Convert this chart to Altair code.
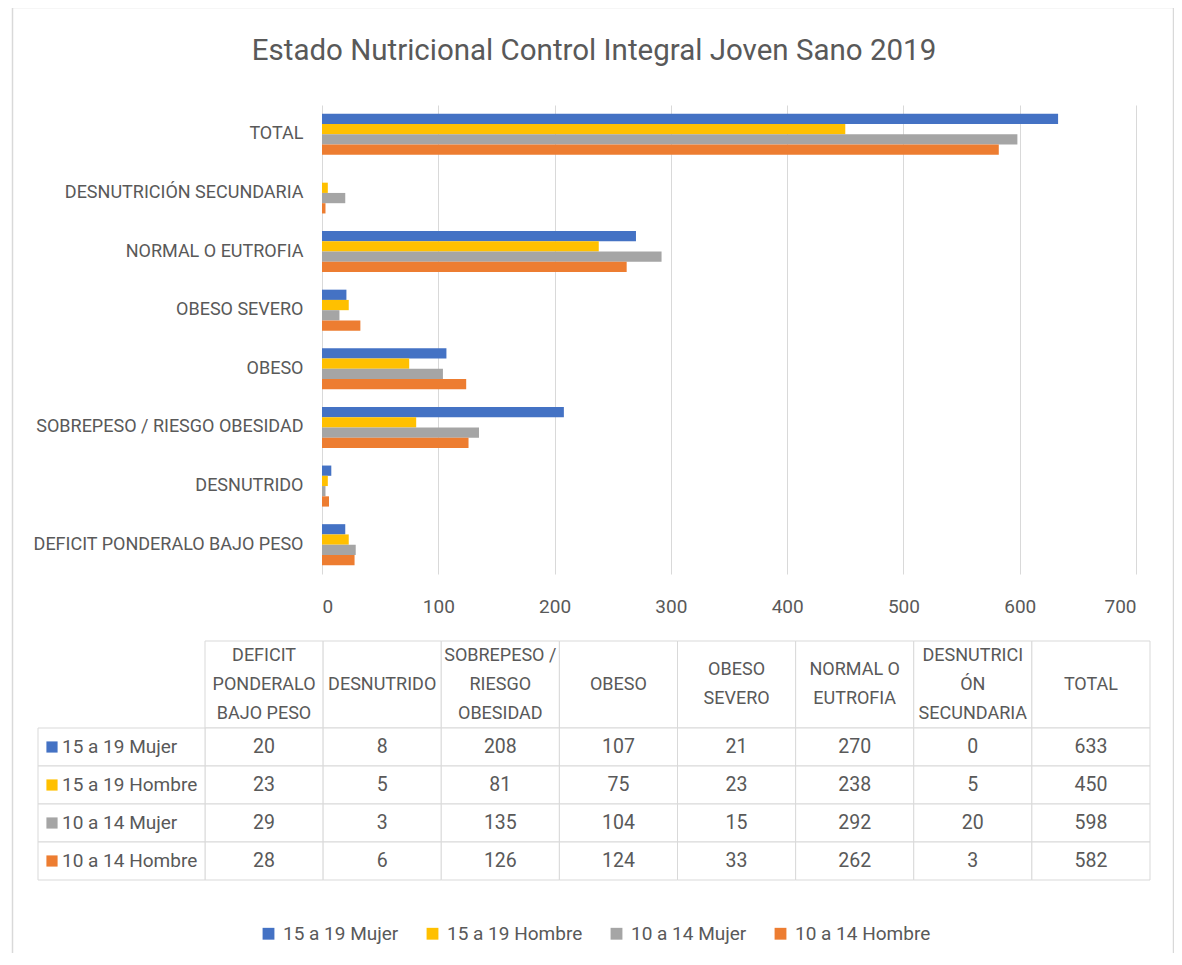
import altair as alt
import pandas as pd

# ---------------- data ----------------
categories = [
    "DEFICIT PONDERALO BAJO PESO",
    "DESNUTRIDO",
    "SOBREPESO / RIESGO OBESIDAD",
    "OBESO",
    "OBESO SEVERO",
    "NORMAL O EUTROFIA",
    "DESNUTRICIÓN SECUNDARIA",
    "TOTAL",
]
header_lines = [
    ["DEFICIT", "PONDERALO", "BAJO PESO"],
    ["DESNUTRIDO"],
    ["SOBREPESO /", "RIESGO", "OBESIDAD"],
    ["OBESO"],
    ["OBESO", "SEVERO"],
    ["NORMAL O", "EUTROFIA"],
    ["DESNUTRICI", "ÓN", "SECUNDARIA"],
    ["TOTAL"],
]
series = ["15 a 19 Mujer", "15 a 19 Hombre", "10 a 14 Mujer", "10 a 14 Hombre"]
colors = ["#4472C4", "#FFC000", "#A5A5A5", "#ED7D31"]

mujer_15_19 = [20, 8, 208, 107, 21, 270, 0, 633]
hombre_15_19 = [23, 5, 81, 75, 23, 238, 5, 450]
mujer_10_14 = [29, 3, 135, 104, 15, 292, 20, 598]
hombre_10_14 = [28, 6, 126, 124, 33, 262, 3, 582]

x_ticks = [0, 100, 200, 300, 400, 500, 600, 700]
title_text = "Estado Nutricional Control Integral Joven Sano 2019"

# ---------------- tables built from the arrays ----------------
values_by_series = [mujer_15_19, hombre_15_19, mujer_10_14, hombre_10_14]
rows = []
for s, vals in zip(series, values_by_series):
    for c, v in zip(categories, vals):
        rows.append({"category": c, "series": s, "value": v, "txt": str(v)})
df = pd.DataFrame(rows)

hdr = pd.DataFrame({"category": categories, "row": "h"})
hrows = []
for c, lines in zip(categories, header_lines):
    n = len(lines)
    for k, t in enumerate(lines):
        hrows.append({"category": c, "line": t, "slot": k - (n - 1) / 2})
hdr_lines = pd.DataFrame(hrows)

lab = pd.DataFrame({"series": series, "col": "label"})
one = pd.DataFrame({"k": [0]})

FONT = "Roboto"
TXT = "#595959"
GRID = "#d9d9d9"

W, H = 814, 469

# ---------------- bar chart ----------------
bars = alt.Chart(df).mark_bar().encode(
    x=alt.X(
        "value:Q",
        scale=alt.Scale(domain=[0, 700], nice=False),
        axis=alt.Axis(values=x_ticks, title=None, grid=True, gridColor=GRID, gridWidth=1,
                      domain=False, ticks=False, labelFontSize=19, labelColor=TXT,
                      labelPadding=23, labelFont=FONT),
    ),
    y=alt.Y(
        "category:N",
        sort=categories[::-1],
        scale=alt.Scale(paddingInner=0.3, paddingOuter=0.15),
        axis=alt.Axis(title=None, domain=False, ticks=False, labelFontSize=18,
                      labelColor=TXT, labelPadding=19, labelLimit=0, labelFont=FONT),
    ),
    yOffset=alt.YOffset("series:N", sort=series, scale=alt.Scale(paddingInner=0, paddingOuter=0)),
    color=alt.Color(
        "series:N",
        scale=alt.Scale(domain=series, range=colors),
        legend=alt.Legend(orient="none", legendX=-63, legendY=819, direction="horizontal",
                          title=None, symbolType="square", symbolSize=140, symbolStrokeWidth=0,
                          labelFontSize=19, labelColor=TXT, labelFont=FONT,
                          columnPadding=24, labelOffset=5, padding=0),
    ),
)

# ---------------- table ----------------
col_x = alt.X("category:N", sort=categories, axis=None,
              scale=alt.Scale(range=[-117, 828], paddingInner=0, paddingOuter=0))
row_y = alt.Y("series:N", sort=series, axis=None,
              scale=alt.Scale(range=[623, 775], paddingInner=0, paddingOuter=0))
hdr_y = alt.Y("row:N", axis=None, scale=alt.Scale(range=[536, 623], paddingInner=0, paddingOuter=0))
line_y = alt.Y("slot:Q", axis=None, scale=alt.Scale(domain=[-1, 1], range=[550.5, 608.5], nice=False, zero=False))
lab_x = alt.X("col:N", axis=None, scale=alt.Scale(range=[-284, -117], paddingInner=0, paddingOuter=0))
# key column: the band centre of this scale is where the colour key sits
key_x = alt.X("col:N", axis=None, scale=alt.Scale(range=[-284, -256], paddingInner=0, paddingOuter=0))

hdr_cells = alt.Chart(hdr).mark_rect(fill="white", stroke=GRID, strokeWidth=1).encode(x=col_x, y=hdr_y)
hdr_text = alt.Chart(hdr_lines).mark_text(font=FONT, fontSize=18, color=TXT, baseline="middle").encode(
    x=col_x, y=line_y, text="line:N")

body_cells = alt.Chart(df).mark_rect(fill="white", stroke=GRID, strokeWidth=1).encode(x=col_x, y=row_y)
body_text = alt.Chart(df).mark_text(font=FONT, fontSize=19.5, color=TXT, baseline="middle").encode(
    x=col_x, y=row_y, text="txt:N")

lab_cells = alt.Chart(lab).mark_rect(fill="white", stroke=GRID, strokeWidth=1).encode(x=lab_x, y=row_y)
lab_sq = alt.Chart(lab).mark_square(size=125, opacity=1).encode(
    x=key_x, y=row_y,
    color=alt.Color("series:N", scale=alt.Scale(domain=series, range=colors), legend=None))
lab_text = alt.Chart(lab).mark_text(font=FONT, fontSize=19, color=TXT, align="left",
                                    baseline="middle", dx=10).encode(
    x=key_x, y=row_y, text="series:N")

# ---------------- frame and title ----------------
frame = alt.Chart(one).mark_rect(fill="white", fillOpacity=0, stroke=GRID, strokeWidth=1.5).encode(
    x=alt.value(-309.5), x2=alt.value(851.5), y=alt.value(-97.5), y2=alt.value(900))
title = alt.Chart(one).mark_text(text=title_text, font=FONT, fontSize=29.5, color=TXT,
                                 align="center", baseline="middle").encode(
    x=alt.value(272), y=alt.value(-54))

chart = alt.layer(
    frame, title, bars,
    hdr_cells, hdr_text, body_cells, body_text, lab_cells, lab_sq, lab_text,
).resolve_scale(
    x="independent", y="independent", color="independent"
).properties(
    width=W, height=H,
    autosize=alt.AutoSizeParams(type="none"),
    padding={"left": 314, "top": 97, "right": 38, "bottom": 379},
).configure(font=FONT, view=alt.ViewConfig(stroke=None))

chart.save("out.html", embed_options={"renderer": "svg", "actions": False})
